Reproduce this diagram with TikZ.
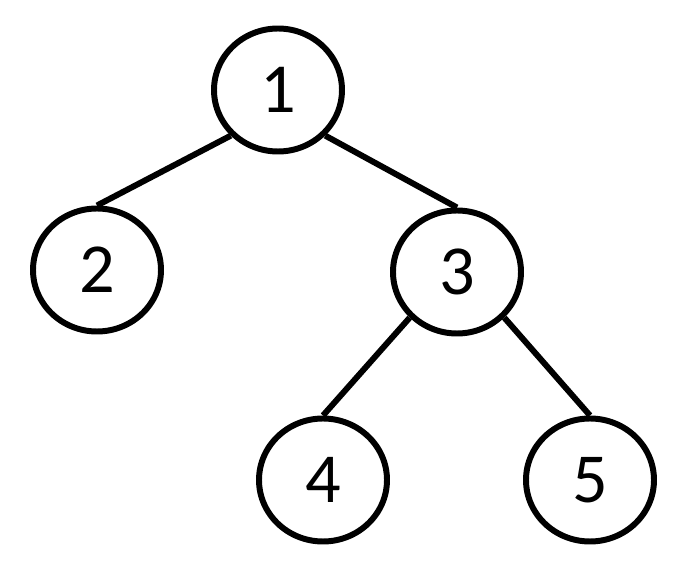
\documentclass[tikz,border=0pt]{standalone}
\usepackage{fontspec}
\setmainfont{Carlito}
\usetikzlibrary{shapes.geometric}

\begin{document}
\begin{tikzpicture}[
    line width=3.4pt
]
    % Styles for tree nodes
    \tikzstyle{vertex} = [draw, ellipse, minimum width=2.56cm, minimum height=2.46cm, inner sep=0pt, font=\fontsize{40}{40}\selectfont]

    \useasboundingbox (0,0) rectangle (13.7,11.34);

    % Nodes
    \node [vertex] (N1) at (5.56, 9.54) {1};
    \node [vertex] (N2) at (1.94, 5.94) {2};
    \node [vertex] (N3) at (9.14, 5.90) {3};
    \node [vertex] (N4) at (6.46, 1.74) {4};
    \node [vertex] (N5) at (11.80, 1.74) {5};

    % Edges (lower rim of parent to top of child)
    \draw (N1.224) -- (N2.90);
    \draw (N1.316) -- (N3.90);
    \draw (N3.224) -- (N4.90);
    \draw (N3.316) -- (N5.90);

\end{tikzpicture}
\end{document}
